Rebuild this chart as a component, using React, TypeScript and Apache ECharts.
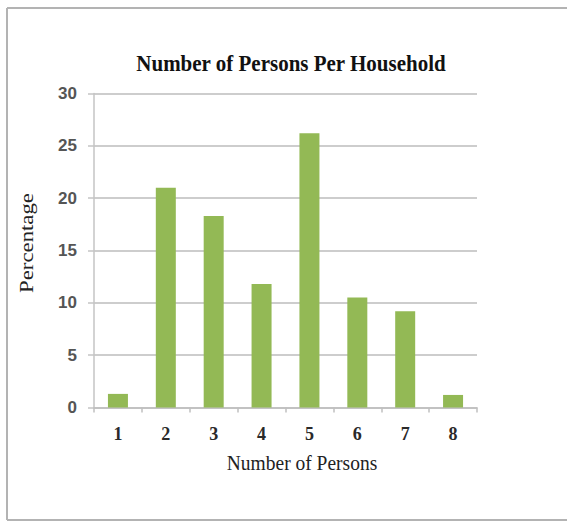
import React, { useEffect, useRef } from "react";
import * as echarts from "echarts";

// Household size categories and their share of households (%)
const personCounts = ["1", "2", "3", "4", "5", "6", "7", "8"];
const percentages = [1.3, 21.0, 18.3, 11.8, 26.2, 10.5, 9.2, 1.2];

const yTicks = { min: 0, max: 30, interval: 5 };

const chartTitle = "Number of Persons Per Household";
const xTitle = "Number of Persons";
const yTitle = "Percentage";

const frameStyle = { stroke: "#b3b3b3", lineWidth: 2 };

export default function App() {
  const ref = useRef<HTMLDivElement>(null);

  useEffect(() => {
    if (!ref.current) return;
    const chart = echarts.init(ref.current, null, { renderer: "svg" });
    chart.setOption({
      animation: false,
      backgroundColor: "#ffffff",
      grid: { left: 94, right: 90, top: 93.5, bottom: 114.5, containLabel: false },
      xAxis: {
        type: "category",
        data: personCounts,
        boundaryGap: true,
        axisLine: { show: true, lineStyle: { color: "#bfbfbf", width: 1.5 } },
        axisTick: { show: true, alignWithLabel: false, length: 5, lineStyle: { color: "#bfbfbf", width: 1.5 } },
        axisLabel: {
          color: "#2a2a2a",
          fontFamily: "Liberation Serif",
          fontWeight: "bold",
          fontSize: 18,
          margin: 17,
        },
      },
      yAxis: {
        type: "value",
        min: yTicks.min,
        max: yTicks.max,
        interval: yTicks.interval,
        axisLine: { show: true, lineStyle: { color: "#c4c4c4", width: 1.5 } },
        axisTick: { show: true, length: 6, lineStyle: { color: "#c4c4c4", width: 1.5 } },
        splitLine: { show: true, lineStyle: { color: "#cdcdcd", width: 2 } },
        axisLabel: {
          color: "#555555",
          fontFamily: "Liberation Sans",
          fontWeight: "bold",
          fontSize: 17,
          margin: 17,
        },
      },
      series: [
        {
          type: "bar",
          data: percentages,
          barWidth: 20,
          itemStyle: { color: "#93b955" },
        },
      ],
      graphic: [
        // open frame: top, left and bottom edges run off the right side
        { type: "line", shape: { x1: 7, y1: 8, x2: 567, y2: 8 }, style: frameStyle, silent: true },
        { type: "line", shape: { x1: 7, y1: 8, x2: 7, y2: 520 }, style: frameStyle, silent: true },
        { type: "line", shape: { x1: 7, y1: 520, x2: 567, y2: 520 }, style: frameStyle, silent: true },
        {
          type: "text",
          x: 291,
          y: 64,
          scaleY: 1.08,
          style: {
            text: chartTitle,
            font: "bold 21px 'Liberation Serif'",
            fill: "#111111",
            textAlign: "center",
            textVerticalAlign: "middle",
          },
        },
        {
          type: "text",
          x: 302,
          y: 463,
          scaleY: 1.1,
          style: {
            text: xTitle,
            font: "19.5px 'Liberation Serif'",
            fill: "#222222",
            textAlign: "center",
            textVerticalAlign: "middle",
          },
        },
        {
          type: "text",
          x: 27,
          y: 243,
          rotation: Math.PI / 2,
          scaleX: 1.2,
          style: {
            text: yTitle,
            font: "19px 'Liberation Serif'",
            fill: "#222222",
            textAlign: "center",
            textVerticalAlign: "middle",
          },
        },
      ],
    });
    return () => chart.dispose();
  }, []);

  return (
    <div
      ref={ref}
      style={{ position: "fixed", left: 0, top: 0, width: 567, height: 522 }}
    />
  );
}
